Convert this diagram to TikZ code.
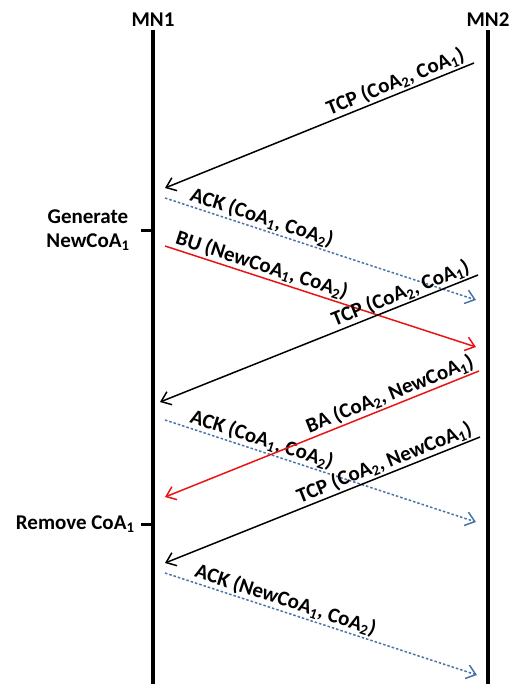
\documentclass[tikz,border=0pt]{standalone}
\usepackage{fontspec}
\setmainfont{Carlito}
\usetikzlibrary{arrows.meta,positioning}
\definecolor{ackblue}{RGB}{74,115,166}
\definecolor{bured}{RGB}{235,20,20}
\newcommand{\coa}[1]{CoA\textsubscript{#1}}
\tikzset{%
  font=\fontsize{21bp}{24bp}\selectfont\bfseries,
  >={Straight Barb[length=9bp,width=14bp]},
  lifeline/.style={line width=4bp},
  tickmark/.style={line width=3bp},
  msg/.style={draw,->,line width=1.5bp},
  ackmsg/.style={msg,draw=ackblue,dash pattern=on 2.5bp off 2bp},
  bumsg/.style={msg,draw=bured},
  lbl/.style={sloped,above,inner sep=1.5bp}
}

\begin{document}
\begin{tikzpicture}[x=1bp,y=1bp]
	\useasboundingbox (0,0) rectangle (514,-684);
	% the two hosts and their time lines
	\node (mn1) at (153,-20) {MN1};
	\node (mn2) at (488,-20) {MN2};
	\draw[lifeline] (mn1.south) -- ++(0,-670);
	\draw[lifeline] (mn2.south) -- ++(0,-670);
	% events on MN1
	\coordinate (gen) at (153,-230);
	\coordinate (rem) at (153,-524);
	\draw[tickmark] (gen) -- ++(-12,0) coordinate (gentick);
	\draw[tickmark] (rem) -- ++(-12,0) coordinate (remtick);
	\node[left=8bp of gentick,align=center] (genlbl) {Generate\\New\coa{1}};
	\node[left=3bp of remtick] (remlbl) {Remove \coa{1}};
	% message end points
	\coordinate (t1a) at (474,-63);  \coordinate (t1b) at (165,-188);
	\coordinate (k1a) at (165,-198); \coordinate (k1b) at (476,-300);
	\coordinate (bua) at (165,-246); \coordinate (bub) at (476,-347);
	\coordinate (t2a) at (478,-275); \coordinate (t2b) at (160,-402);
	\coordinate (k2a) at (165,-420); \coordinate (k2b) at (476,-522);
	\coordinate (baa) at (479,-371); \coordinate (bab) at (165,-497);
	\coordinate (t3a) at (480,-437); \coordinate (t3b) at (165,-563);
	\coordinate (k3a) at (165,-573); \coordinate (k3b) at (477,-675);
	% messages
	\draw[msg] (t1a) -- (t1b) node[lbl,pos=.24] {TCP (\coa{2}, \coa{1})};
	\draw[ackmsg] (k1a) -- (k1b) node[lbl,pos=.3] {ACK (\coa{1}, \coa{2})};
	\draw[bumsg] (bua) -- (bub) node[lbl,pos=.3] {BU (New\coa{1}, \coa{2})};
	\draw[msg] (t2a) -- (t2b) node[lbl,pos=.23] {TCP (\coa{2}, \coa{1})};
	\draw[ackmsg] (k2a) -- (k2b) node[lbl,pos=.3] {ACK (\coa{1}, \coa{2})};
	\draw[bumsg] (baa) -- (bab) node[lbl,pos=.27] {BA (\coa{2}, New\coa{1})};
	\draw[msg] (t3a) -- (t3b) node[lbl,pos=.29] {TCP (\coa{2}, New\coa{1})};
	\draw[ackmsg] (k3a) -- (k3b) node[lbl,pos=.375] {ACK (New\coa{1}, \coa{2})};
\end{tikzpicture}
\end{document}
